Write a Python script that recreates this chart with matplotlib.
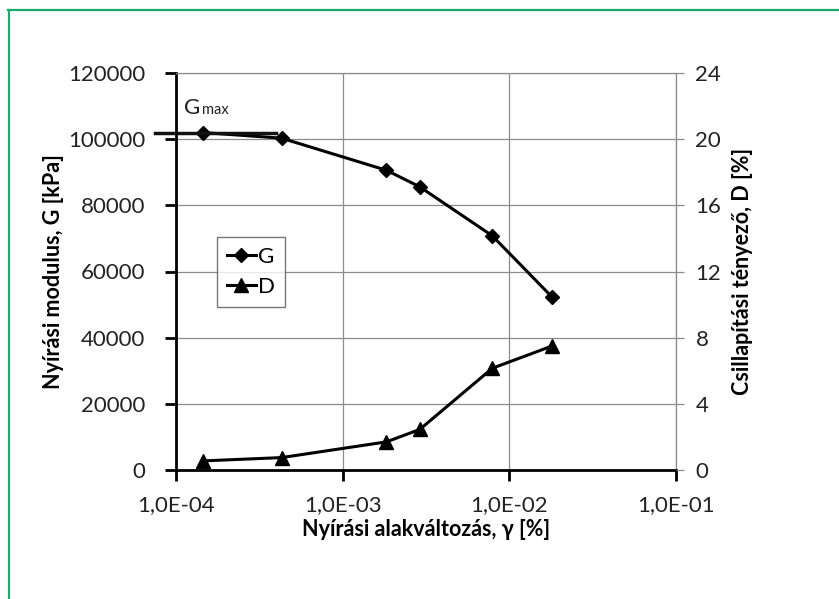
import matplotlib.pyplot as plt
from matplotlib.lines import Line2D

plt.rcParams['font.family'] = ['Lato', 'DejaVu Sans']

# adatok
gamma = [1.45e-4, 4.3e-4, 1.83e-3, 2.9e-3, 7.9e-3, 1.81e-2]
G = [102000, 100300, 90600, 85600, 70800, 52200]
D = [0.55, 0.75, 1.7, 2.45, 6.15, 7.5]
g_ticks = [0, 20000, 40000, 60000, 80000, 100000, 120000]
d_ticks = [0, 4, 8, 12, 16, 20, 24]
x_ticks = [1e-4, 1e-3, 1e-2, 1e-1]
x_labels = ['1,0E-04', '1,0E-03', '1,0E-02', '1,0E-01']
g_max = 102000

fig = plt.figure(figsize=(8.39, 5.99), dpi=100)
ax = fig.add_axes([176 / 839, 1 - 470 / 599, 500 / 839, 397 / 599])

# zöld keret (felső és bal oldal)
fig.add_artist(Line2D([8 / 839, 1], [1 - 9.5 / 599, 1 - 9.5 / 599], color='#1aaa6a', lw=1.6))
fig.add_artist(Line2D([9 / 839, 9 / 839], [0, 1 - 9.5 / 599], color='#1aaa6a', lw=1.6))

ax.set_xscale('log')
ax.set_xlim(1e-4, 1e-1)
ax.set_ylim(0, 120000)
ax.set_xticks(x_ticks)
ax.set_xticklabels(x_labels)
ax.minorticks_off()
ax.set_yticks(g_ticks)
ax.set_yticklabels([str(v) for v in g_ticks])
ax.grid(True, color='#8c8c8c', lw=0.9)
ax.set_axisbelow(True)

for s in ['top', 'right']:
    ax.spines[s].set_color('#8c8c8c')
    ax.spines[s].set_linewidth(0.9)
for s in ['left', 'bottom']:
    ax.spines[s].set_color('black')
    ax.spines[s].set_linewidth(2)
ax.tick_params(axis='both', direction='out', length=8, width=2, labelsize=16,
               colors='black', labelcolor='#222222')
ax.tick_params(axis='y', pad=14)
ax.tick_params(axis='x', pad=10)

lg, = ax.plot(gamma, G, color='black', lw=2.2, marker='D', ms=7, label='G')
ax.plot([7.5e-5, 4e-4], [g_max, g_max], color='#111111', lw=2.5, clip_on=False)
ax.text(1.12e-4, 106500, 'G', fontsize=16, color='#222222', va='bottom')
ax.text(1.43e-4, 106800, 'max', fontsize=10.5, color='#222222', va='bottom')

ax2 = ax.twinx()
ax2.set_ylim(0, 24)
ax2.set_yticks(d_ticks)
ax2.set_yticklabels([str(v) for v in d_ticks])
ax2.tick_params(axis='y', direction='out', length=6, width=0.9, colors='#8c8c8c',
                labelcolor='#222222', labelsize=16, pad=8)
for s in ax2.spines.values():
    s.set_visible(False)
ld, = ax2.plot(gamma, D, color='black', lw=2.2, marker='^', ms=10, label='D')

leg = ax2.legend([lg, ld], ['G', 'D'], loc='lower left', bbox_to_anchor=(0.082, 0.41),
                 frameon=True, fancybox=False, edgecolor='#555555', fontsize=16,
                 handlelength=1.3, handletextpad=0.1, borderpad=0.45, labelspacing=0.45,
                 borderaxespad=0)
leg.get_frame().set_linewidth(1.0)

ax.set_ylabel('Nyírási modulus, G [kPa]', fontsize=15.5, fontweight='bold', labelpad=3)
ax2.set_ylabel('Csillapítási tényező, D [%]', fontsize=15.5, fontweight='bold', labelpad=8)
ax.set_xlabel('Nyírási alakváltozás, γ [%]', fontsize=15.5, fontweight='bold', labelpad=3)

fig.savefig('out.png', dpi=100)
